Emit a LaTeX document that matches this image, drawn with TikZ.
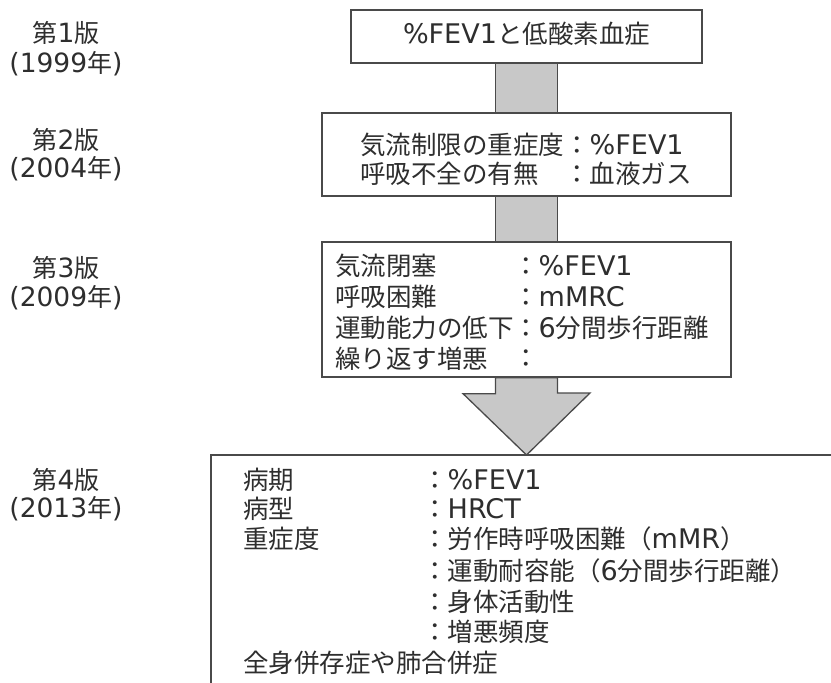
\documentclass[tikz,border=0pt]{standalone}
\usepackage{fontspec}
\setmainfont{Noto Sans CJK JP}
\newfontfamily\lat{DejaVu Sans}[Scale=1.06]
\usetikzlibrary{calc}
\definecolor{ink}{HTML}{2E2E2E}
\definecolor{edgec}{HTML}{4A4A4A}
\definecolor{band}{HTML}{C8C8C8}
\newcommand\La[1]{{\lat #1}}
\begin{document}
\begin{tikzpicture}[x=1pt,y=-1pt,
  txt/.style={font=\fontsize{25.5}{30}\selectfont, text=ink, inner sep=0pt, anchor=west},
  ctxt/.style={font=\fontsize{25.5}{30}\selectfont, text=ink, inner sep=0pt, anchor=center},
  lbl/.style={font=\fontsize{25}{30}\selectfont, text=ink, inner sep=0pt, anchor=center},
  boxx/.style={draw=edgec, line width=1.3pt, fill=white, inner sep=0pt},
  conn/.style={draw=edgec, fill=band, line width=1.3pt, line join=miter},
  openbox/.style={draw=edgec, line width=1.3pt}]
\useasboundingbox (0,0) rectangle (831,683);
\fill[white] (0,0) rectangle (831,683);

% left edition labels
\node[lbl] (v1) at (66,33) {第\La{1}版};
\node[lbl] (y1) at (66,64) {\La{(1999}年\La{)}};
\node[lbl] (v2) at (66,140) {第\La{2}版};
\node[lbl] (y2) at (66,169) {\La{(2004}年\La{)}};
\node[lbl] (v3) at (66,268) {第\La{3}版};
\node[lbl] (y3) at (66,298) {\La{(2009}年\La{)}};
\node[lbl] (v4) at (66,480) {第\La{4}版};
\node[lbl] (y4) at (66,509) {\La{(2013}年\La{)}};

% boxes
\node[boxx, minimum width=351pt, minimum height=53pt] (b1) at (526.5,36.5) {};
\node[boxx, minimum width=409pt, minimum height=83pt] (b2) at (526.5,154.5) {};
\node[boxx, minimum width=409pt, minimum height=135pt] (b3) at (526.5,309.5) {};

% connectors
\draw[conn] ($(b1.south)+(-31,0)$) rectangle ($(b2.north)+(31,0)$);
\draw[conn] ($(b2.south)+(-31,0)$) rectangle ($(b3.north)+(31,0)$);

% open bottom box
\coordinate (b4ne) at (831,455);
\coordinate (b4nw) at (211,455);
\coordinate (b4sw) at (211,683);
\coordinate (tip) at (526.5,455);
\draw[openbox] (b4ne) -- (b4nw) -- (b4sw);

% big arrow
\draw[conn] ($(b3.south)+(-31,0)$) -- ++(0,16) -- ++(-32.5,0) -- (tip)
  -- ($(tip)+(63.5,-62)$) -- ++(-32.5,0) -- ($(b3.south)+(31,0)$) -- cycle;

% box 1 text
\node[ctxt] (t1) at (526.5,34) {\La{\%FEV1}と低酸素血症};

% box 2 text
\node[txt] (t2a) at (360,145) {気流制限の重症度};
\node[txt] (t2b) at (360,174) {呼吸不全の有無};
\node[txt] (u2a) at (564,145) {：\La{\%FEV1}};
\node[txt] (u2b) at (564,174) {：血液ガス};

% box 3 text
\node[txt] (t3a) at (335,266) {気流閉塞};
\node[txt] (t3b) at (335,297) {呼吸困難};
\node[txt] (t3c) at (335,328) {運動能力の低下};
\node[txt] (t3d) at (335,359) {繰り返す増悪};
\node[txt] (u3a) at (513,266) {：\La{\%FEV1}};
\node[txt] (u3b) at (513,297) {：\La{mMRC}};
\node[txt] (u3c) at (513,328) {：\La{6}分間歩行距離};
\node[txt] (u3d) at (513,359) {：};

% box 4 text
\node[txt] (t4a) at (243,480) {病期};
\node[txt] (t4b) at (243,509) {病型};
\node[txt] (t4c) at (243,539) {重症度};
\node[txt] (t4d) at (243,663) {全身併存症や肺合併症};
\node[txt] (u4a) at (422,480) {：\La{\%FEV1}};
\node[txt] (u4b) at (422,509) {：\La{HRCT}};
\node[txt] (u4c) at (422,539) {：労作時呼吸困難（\La{mMR}）};
\node[txt] (u4d) at (422,571) {：運動耐容能（\La{6}分間歩行距離）};
\node[txt] (u4e) at (422,602) {：身体活動性};
\node[txt] (u4f) at (422,632) {：増悪頻度};
\end{tikzpicture}
\end{document}
